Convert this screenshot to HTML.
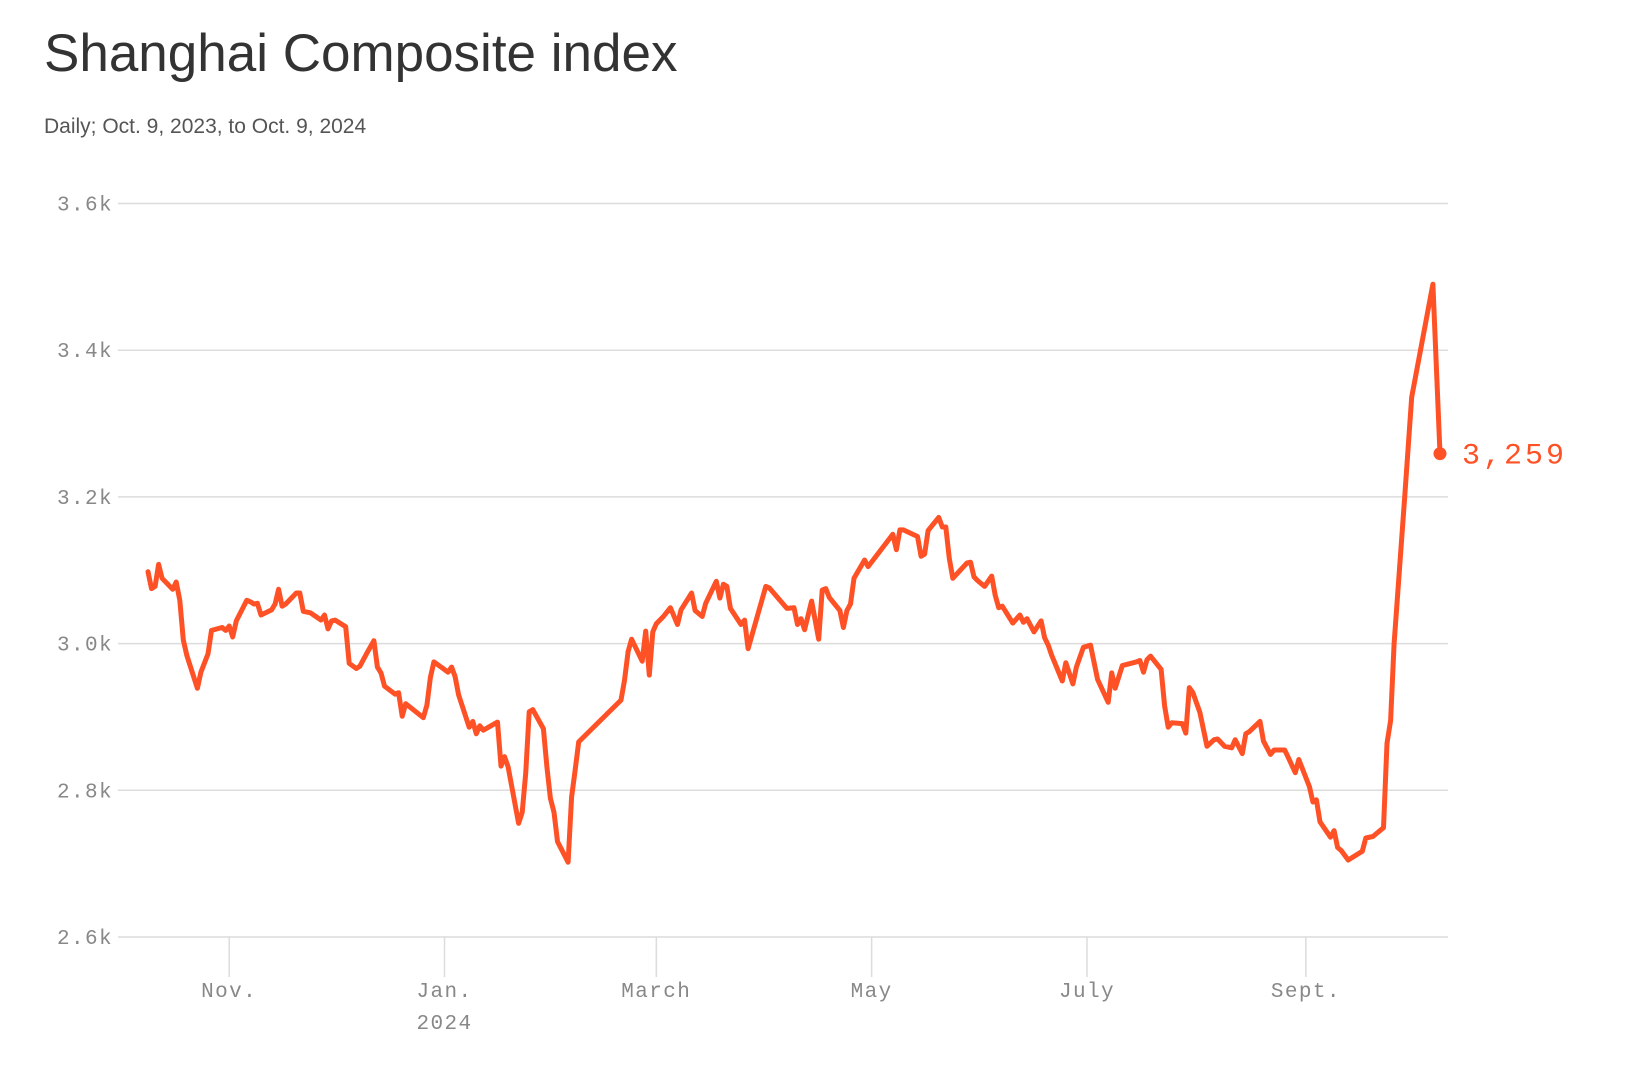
<!DOCTYPE html>
<html><head><meta charset="utf-8">
<style>
html,body{margin:0;padding:0;background:#fff;}
body{width:1630px;height:1066px;overflow:hidden;}
svg{display:block;}
.mono{font-family:"Liberation Mono","DejaVu Sans Mono",monospace;}
</style></head>
<body>
<svg id="chart" width="1630" height="1066" viewBox="0 0 1630 1066">
  <text x="44" y="71" font-family="Liberation Sans, sans-serif" font-size="53" fill="#333">Shanghai Composite index</text>
  <text x="44" y="133" font-family="Liberation Sans, sans-serif" font-size="21" fill="#555">Daily; Oct. 9, 2023, to Oct. 9, 2024</text>
  <g id="grid"></g>
  <g id="yaxis"></g>
  <g id="xaxis"></g>
  <g id="series"></g>
</svg>
<script>
// Day offsets from Oct. 9, 2023
const days = [0,1,2,3,4,7,8,9,10,11,14,15,17,18,21,22,23,24,25,28,29,30,31,32,35,36,37,38,39,42,43,44,46,49,50,51,52,53,56,57,59,60,62,64,65,66,67,70,71,72,73,78,79,80,81,85,86,87,88,91,92,93,94,95,99,100,101,102,105,106,107,108,109,112,113,114,115,116,119,120,121,122,134,135,136,137,140,141,142,143,144,146,148,150,151,154,155,157,158,161,162,163,164,165,168,169,170,175,176,181,183,184,185,186,188,190,191,192,193,196,197,198,199,200,203,204,211,212,213,214,218,219,220,221,224,225,226,227,228,232,233,234,235,237,239,240,241,242,245,247,248,249,251,253,254,255,256,259,260,262,263,265,267,269,272,273,274,276,280,281,282,283,284,287,288,289,290,293,294,295,296,298,300,302,303,305,307,308,310,311,312,315,316,318,319,322,323,325,326,329,330,331,332,335,336,337,338,340,344,345,347,350,351,352,353,356,358,364,366];
const values = [3098,3075,3078,3108,3089,3074,3084,3059,3005,2984,2939,2961,2986,3018,3022,3018,3024,3009,3031,3059,3057,3054,3055,3039,3046,3054,3074,3051,3054,3069,3069,3044,3042,3032,3039,3020,3031,3032,3023,2973,2966,2969,2987,3004,2968,2960,2942,2931,2933,2901,2918,2899,2916,2954,2975,2961,2968,2955,2930,2886,2894,2877,2888,2882,2893,2833,2846,2832,2755,2770,2823,2907,2910,2884,2832,2789,2770,2730,2702,2791,2827,2866,2923,2950,2989,3006,2976,3017,2957,3016,3027,3037,3049,3026,3046,3069,3045,3037,3055,3085,3062,3081,3078,3048,3026,3032,2993,3078,3076,3048,3049,3026,3034,3019,3058,3006,3073,3075,3063,3045,3022,3045,3054,3089,3114,3105,3149,3128,3155,3155,3146,3119,3122,3154,3172,3159,3159,3116,3089,3110,3111,3091,3086,3078,3092,3066,3049,3051,3028,3039,3029,3034,3016,3031,3008,2998,2984,2949,2974,2945,2968,2995,2998,2951,2920,2960,2939,2970,2975,2977,2961,2978,2983,2965,2915,2886,2892,2891,2878,2940,2933,2906,2860,2869,2870,2860,2858,2869,2850,2877,2880,2894,2867,2849,2855,2855,2845,2824,2842,2805,2784,2787,2757,2736,2745,2722,2718,2705,2717,2735,2737,2749,2864,2895,3000,3200,3336,3490,3259];
const yTicks = [2600,2800,3000,3200,3400,3600];
const yTickLabels = ["2.6k","2.8k","3.0k","3.2k","3.4k","3.6k"];
const xTickDays = [23,84,144,205,266,328];
const xTickLabels = ["Nov.","Jan.","March","May","July","Sept."];
const lastLabel = "3,259";

const NS = "http://www.w3.org/2000/svg";
const X0 = 148, PXDAY = 3.53;
const Y_BASE = 937, Y_MIN = 2600, PXUNIT = 733.5/1000;
function xs(d){ return X0 + d*PXDAY; }
function ys(v){ return Y_BASE - (v - Y_MIN)*PXUNIT; }
function mk(tag, attrs, parent){ const e=document.createElementNS(NS,tag); for(const k in attrs) e.setAttribute(k, attrs[k]); parent.appendChild(e); return e; }

const grid = document.getElementById('grid');
const yaxis = document.getElementById('yaxis');
const xaxis = document.getElementById('xaxis');
const series = document.getElementById('series');

yTicks.forEach((v,i)=>{
  const l = mk('line',{x1:118,x2:1448,y1:ys(v),y2:ys(v),stroke:'#dcdcdc','stroke-width':1.5},grid);
  
  
  const t = mk('text',{x:113,y:ys(v)+7,'text-anchor':'end','font-size':21,fill:'#888','letter-spacing':1.4,class:'mono'},yaxis);
  
  
  t.textContent = yTickLabels[i];
});

xTickDays.forEach((d,i)=>{
  const l = mk('line',{x1:xs(d),x2:xs(d),y1:937,y2:977,stroke:'#dcdcdc','stroke-width':1.5},xaxis);
  
  
  const t = mk('text',{x:xs(d),y:997,'text-anchor':'middle','font-size':21,fill:'#888','letter-spacing':1.4,class:'mono'},xaxis);
  
  
  t.textContent = xTickLabels[i];
});
const yr = mk('text',{x:xs(84),y:1029,'text-anchor':'middle','font-size':21,fill:'#888','letter-spacing':1.4,class:'mono'},xaxis);


yr.textContent = '2024';

const pts = days.map((d,i)=>xs(d).toFixed(1)+','+ys(values[i]).toFixed(1)).join(' ');
const line = mk('polyline',{points:pts,fill:'none',stroke:'#ff5126','stroke-width':5,'stroke-linejoin':'round','stroke-linecap':'round'},series);



const li = days.length-1;
const dot = mk('circle',{cx:xs(days[li]),cy:ys(values[li]),r:6.5,fill:'#ff5126'},series);


const lab = mk('text',{x:xs(days[li])+22,y:ys(values[li])+10,'font-size':30,fill:'#ff5126','letter-spacing':3,class:'mono'},series);


lab.textContent = lastLabel;
</script>
</body></html>
